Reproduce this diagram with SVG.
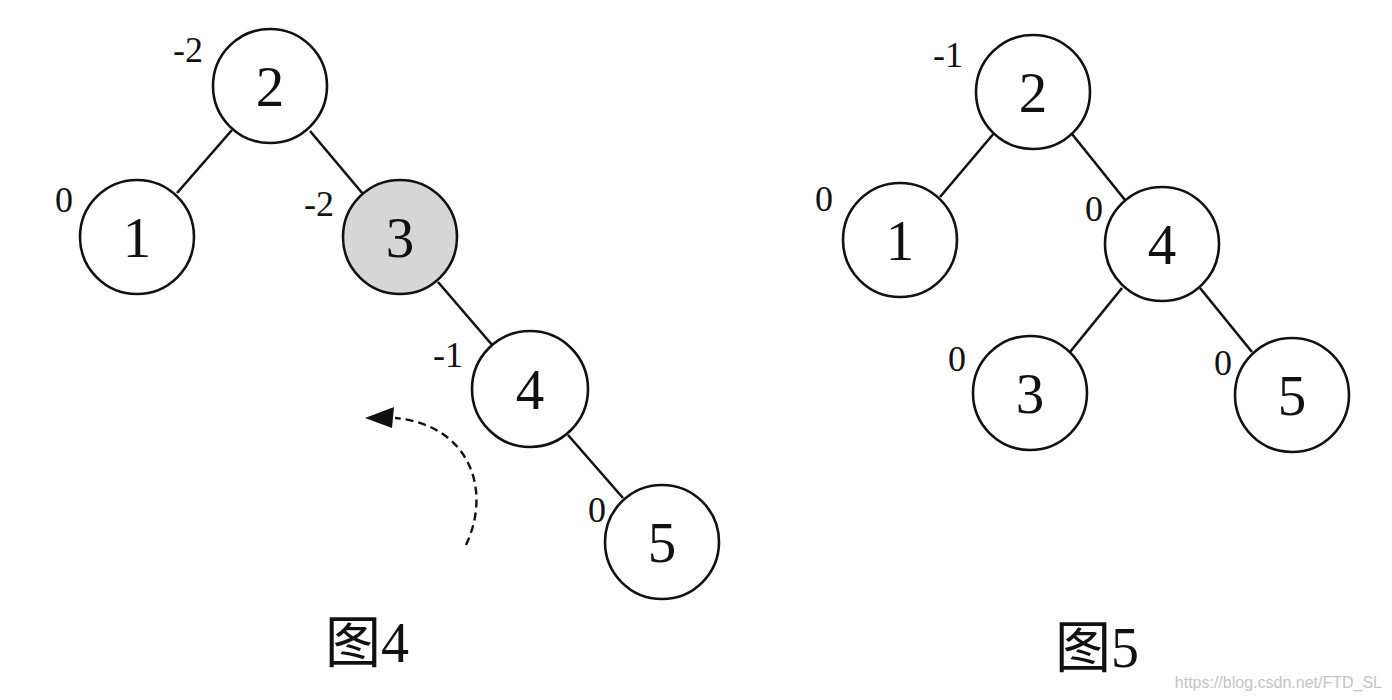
<svg xmlns="http://www.w3.org/2000/svg" width="1392" height="700" viewBox="0 0 1392 700">
<style>
.node circle{fill:#fff;stroke:#111;stroke-width:2.6}
.node text.v{font-family:"Liberation Serif",serif;font-size:57px;fill:#111;text-anchor:middle}
.bf{font-family:"Liberation Serif",serif;font-size:36px;fill:#111;text-anchor:middle}
.edge line{stroke:#111;stroke-width:2.6}
.cap{font-family:"Liberation Serif","Noto Sans CJK SC",serif;font-size:56px;fill:#111}
</style>
<rect width="1392" height="700" fill="#fff"/>
<g id="connectors" class="edge">
<line x1="232" y1="130" x2="177" y2="193"/>
<line x1="310" y1="131" x2="363" y2="194"/>
<line x1="438" y1="282" x2="493" y2="346"/>
<line x1="568" y1="435" x2="623" y2="498"/>
<line x1="995" y1="132" x2="940" y2="197"/>
<line x1="1072" y1="134" x2="1125" y2="200"/>
<line x1="1122" y1="288" x2="1070" y2="352"/>
<line x1="1200" y1="288" x2="1252" y2="352"/>
<path d="M466,545 C492,490 470,425 395,418" fill="none" stroke="#111" stroke-width="2.4" stroke-dasharray="8,5"/>
<path d="M365,418 L394,407 L392,428 Z" fill="#111"/>
</g>
<g id="L2" class="node"><circle cx="270" cy="86" r="57"/><text class="v" x="270" y="106">2</text><text class="bf" x="188" y="62">-2</text></g>
<g id="L1" class="node"><circle cx="137" cy="237" r="57"/><text class="v" x="137" y="257">1</text><text class="bf" x="64" y="212">0</text></g>
<g id="L3" class="node"><circle cx="400" cy="237" r="57" style="fill:#d6d6d6"/><text class="v" x="400" y="257">3</text><text class="bf" x="319" y="216">-2</text></g>
<g id="L4" class="node"><circle cx="530" cy="389" r="58"/><text class="v" x="530" y="409">4</text><text class="bf" x="448" y="367">-1</text></g>
<g id="L5" class="node"><circle cx="662" cy="542" r="57"/><text class="v" x="662" y="562">5</text><text class="bf" x="597" y="522">0</text></g>
<g id="R2" class="node"><circle cx="1033" cy="92" r="57"/><text class="v" x="1033" y="112">2</text><text class="bf" x="948" y="67">-1</text></g>
<g id="R1" class="node"><circle cx="900" cy="240" r="57"/><text class="v" x="900" y="260">1</text><text class="bf" x="824" y="211">0</text></g>
<g id="R4" class="node"><circle cx="1162" cy="244" r="57"/><text class="v" x="1162" y="264">4</text><text class="bf" x="1094" y="221">0</text></g>
<g id="R3" class="node"><circle cx="1030" cy="393" r="57"/><text class="v" x="1030" y="413">3</text><text class="bf" x="957" y="371">0</text></g>
<g id="R5" class="node"><circle cx="1292" cy="395" r="57"/><text class="v" x="1292" y="415">5</text><text class="bf" x="1223" y="375">0</text></g>
<text class="cap" x="325" y="662">图4</text>
<text class="cap" x="1055" y="667">图5</text>
<text x="1382" y="688" font-family="Liberation Sans,sans-serif" font-size="16" fill="#c4c4c4" text-anchor="end">https://blog.csdn.net/FTD_SL</text>
</svg>
